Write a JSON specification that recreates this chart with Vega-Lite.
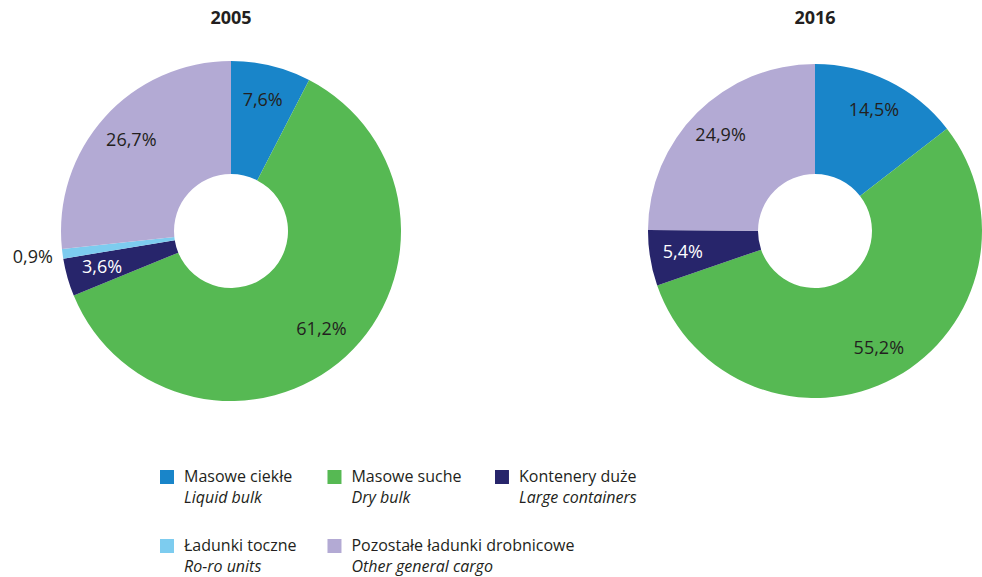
{
  "$schema": "https://vega.github.io/schema/vega-lite/v6.json",
  "padding": {"left": 0, "right": 0, "top": 10, "bottom": 0},
  "background": "white",
  "config": {
    "view": {"stroke": null},
    "title": {"font": "Open Sans", "fontSize": 18, "fontWeight": "bold", "color": "#231f20", "anchor": "middle", "offset": 33}
  },
  "datasets": {
    "pie": [
      {"year": 2005, "cat": "liquid", "ord": 1, "value": 7.6, "lbl": "7,6%"},
      {"year": 2005, "cat": "dry", "ord": 2, "value": 61.2, "lbl": "61,2%"},
      {"year": 2005, "cat": "cont", "ord": 3, "value": 3.6, "lbl": "3,6%"},
      {"year": 2005, "cat": "roro", "ord": 4, "value": 0.9, "lbl": "0,9%"},
      {"year": 2005, "cat": "other", "ord": 5, "value": 26.7, "lbl": "26,7%"},
      {"year": 2016, "cat": "liquid", "ord": 1, "value": 14.5, "lbl": "14,5%"},
      {"year": 2016, "cat": "dry", "ord": 2, "value": 55.2, "lbl": "55,2%"},
      {"year": 2016, "cat": "cont", "ord": 3, "value": 5.4, "lbl": "5,4%"},
      {"year": 2016, "cat": "other", "ord": 5, "value": 24.9, "lbl": "24,9%"}
    ],
    "legend": [
      {"key": "liquid", "pl": "Masowe ciekłe", "en": "Liquid bulk", "col": 0, "row": 0},
      {"key": "dry", "pl": "Masowe suche", "en": "Dry bulk", "col": 1, "row": 0},
      {"key": "cont", "pl": "Kontenery duże", "en": "Large containers", "col": 2, "row": 0},
      {"key": "roro", "pl": "Ładunki toczne", "en": "Ro-ro units", "col": 0, "row": 1},
      {"key": "other", "pl": "Pozostałe ładunki drobnicowe", "en": "Other general cargo", "col": 1, "row": 1}
    ]
  },
  "spacing": 30,
  "vconcat": [
    {
      "spacing": 186,
      "hconcat": [
        {
          "width": 462,
          "height": 340,
          "title": {"text": "2005"},
          "data": {"name": "pie"},
          "transform": [{"filter": "datum.year == 2005"}],
          "encoding": {
            "theta": {"field": "value", "type": "quantitative", "stack": true, "scale": {"domain": [0, 100]}},
            "order": {"field": "ord", "type": "quantitative"},
            "color": {"field": "cat", "type": "nominal", "legend": null,
              "scale": {"domain": ["liquid", "dry", "cont", "roro", "other"], "range": ["#1985c9", "#56b953", "#27256b", "#7dccef", "#b3aad4"]}}
          },
          "layer": [
            {"mark": {"type": "arc", "innerRadius": 57, "outerRadius": 170}},
            {"mark": {"type": "text", "radius": 134, "font": "Open Sans", "fontSize": 18},
              "encoding": {
                "text": {"condition": {"test": "datum.cat !== 'roro'", "field": "lbl"}, "value": ""},
                "color": {"condition": {"test": "datum.cat === 'cont'", "value": "#ffffff"}, "value": "#231f20"}
              }},
            {"transform": [
                {"window": [{"op": "sum", "field": "value", "as": "cum"}], "sort": [{"field": "ord"}], "frame": [null, 0]},
                {"calculate": "datum.cum - datum.value / 2", "as": "mid"},
                {"filter": "datum.cat === 'roro'"}
              ],
              "mark": {"type": "text", "radius": 200, "font": "Open Sans", "fontSize": 18},
              "encoding": {
                "theta": {"field": "mid", "type": "quantitative", "stack": null, "scale": {"domain": [0, 100]}},
                "text": {"field": "lbl"},
                "color": {"value": "#231f20"}
              }}
          ]
        },
        {
          "width": 334,
          "height": 340,
          "title": {"text": "2016"},
          "data": {"name": "pie"},
          "transform": [{"filter": "datum.year == 2016"}],
          "encoding": {
            "theta": {"field": "value", "type": "quantitative", "stack": true, "scale": {"domain": [0, 100]}},
            "order": {"field": "ord", "type": "quantitative"},
            "color": {"field": "cat", "type": "nominal", "legend": null,
              "scale": {"domain": ["liquid", "dry", "cont", "roro", "other"], "range": ["#1985c9", "#56b953", "#27256b", "#7dccef", "#b3aad4"]}}
          },
          "layer": [
            {"mark": {"type": "arc", "innerRadius": 57, "outerRadius": 167}},
            {"mark": {"type": "text", "radius": 134, "font": "Open Sans", "fontSize": 18},
              "encoding": {
                "text": {"field": "lbl"},
                "color": {"condition": {"test": "datum.cat === 'cont'", "value": "#ffffff"}, "value": "#231f20"}
              }}
          ]
        }
      ]
    },
    {
      "width": 982,
      "height": 146,
      "data": {"name": "legend"},
      "encoding": {
        "x": {"field": "col", "type": "quantitative", "axis": null, "scale": {"domain": [-0.997, 4.866], "nice": false, "zero": false}},
        "y": {"field": "row", "type": "quantitative", "axis": null, "scale": {"domain": [-0.667, 1.449], "nice": false, "zero": false, "reverse": true}}
      },
      "layer": [
        {"mark": {"type": "point", "shape": "square", "filled": true, "size": 196, "opacity": 1},
          "encoding": {"color": {"field": "key", "type": "nominal", "legend": null,
            "scale": {"domain": ["liquid", "dry", "cont", "roro", "other"], "range": ["#1985c9", "#56b953", "#27256b", "#7dccef", "#b3aad4"]}}}},
        {"mark": {"type": "text", "align": "left", "baseline": "middle", "dx": 17, "font": "Open Sans", "fontSize": 16, "color": "#231f20"},
          "encoding": {"text": {"field": "pl"}}},
        {"mark": {"type": "text", "align": "left", "baseline": "middle", "dx": 17, "dy": 21, "font": "Open Sans", "fontSize": 16, "fontStyle": "italic", "color": "#231f20"},
          "encoding": {"text": {"field": "en"}}}
      ]
    }
  ]
}
